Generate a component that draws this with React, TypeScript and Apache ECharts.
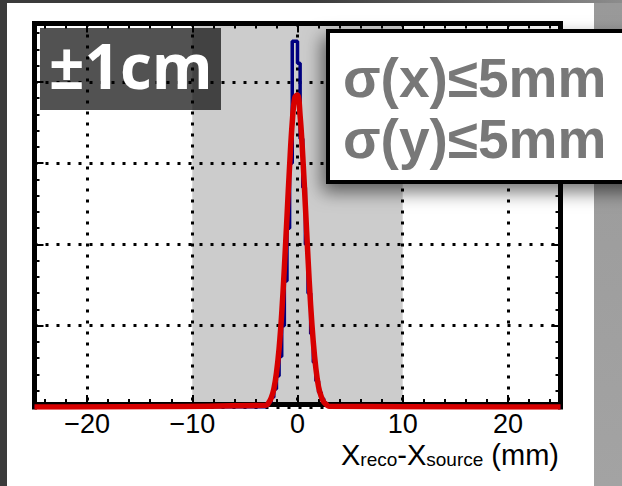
import React, { useEffect, useRef } from "react";
import * as echarts from "echarts";

// Histogram of X_reco - X_source (mm): left edges of 0.25 mm bins and their contents
const binLeftEdges = [
  -3, -2.75, -2.5, -2.25, -2, -1.75, -1.5, -1.25, -1, -0.75, -0.5, -0.25,
  0, 0.25, 0.5, 0.75, 1, 1.25, 1.5, 1.75, 2, 2.25, 2.5, 2.75,
];
const binCounts = [
  0.03, 0.06, 0.12, 0.22, 0.38, 0.62, 1.0, 1.55, 2.2, 3.0, 4.5, 4.5,
  4.23, 3.3, 2.7, 2.0, 1.4, 0.9, 0.55, 0.32, 0.18, 0.1, 0.05, 0.02,
];
const histEnd = 3;

// Gaussian fit curve sampled points
const fitX = [
  -25, -3, -2.75, -2.5, -2.25, -2, -1.75, -1.5, -1.25, -1, -0.75, -0.5, -0.25,
  0, 0.25, 0.5, 0.75, 1, 1.25, 1.5, 1.75, 2, 2.25, 2.5, 2.75, 3, 25,
];
const fitY = [
  0, 0.02, 0.05, 0.11, 0.22, 0.42, 0.72, 1.15, 1.71, 2.34, 2.97, 3.5, 3.81,
  3.84, 3.58, 3.09, 2.47, 1.83, 1.25, 0.8, 0.47, 0.25, 0.13, 0.06, 0.03, 0.01, 0,
];

const xRange = [-25, 25];
const yMax = 4.72;
const windowRange = [-10, 10];

const titleLabel = "\u00b11cm";
const sigmaLines = ["\u03c3(x)\u22645mm", "\u03c3(y)\u22645mm"];

export default function App() {
  const ref = useRef<HTMLDivElement>(null);

  useEffect(() => {
    if (!ref.current) return;
    const chart = echarts.init(ref.current, undefined, { renderer: "svg" });

    const histData: number[][] = [[xRange[0], 0]];
    binLeftEdges.forEach((x, i) => histData.push([x, binCounts[i]]));
    histData.push([histEnd, 0], [xRange[1], 0]);
    const fitData = fitX.map((x, i) => [x, fitY[i]]);

    const frameLine = { show: true, onZero: false, lineStyle: { color: "#000", width: 5, cap: "square" } };
    const tick = { show: true, inside: true, length: 9, lineStyle: { color: "#000", width: 2 } };
    const minor = { show: true, splitNumber: 5, length: 5, lineStyle: { color: "#000", width: 2 } };
    const dotted = { show: true, lineStyle: { color: "#000", width: 3, type: [3, 8] } };

    const fmt = (v: number) => (v < 0 ? "\u2212" + Math.abs(v) : String(v));

    chart.setOption({
      animation: false,
      backgroundColor: "#ffffff",
      grid: { left: 34.5, right: 61.5, top: 23.4, bottom: 79, containLabel: false },
      xAxis: [
        {
          type: "value",
          min: xRange[0],
          max: xRange[1],
          position: "bottom",
          offset: -3,
          z: 3,
          axisLine: frameLine,
          axisTick: tick,
          minorTick: minor,
          splitLine: dotted,
          axisLabel: {
            show: true,
            showMinLabel: false,
            showMaxLabel: false,
            formatter: fmt,
            fontFamily: "Liberation Sans",
            fontSize: 27,
            color: "#000",
            margin: 6,
          },
        },
        {
          type: "value",
          min: xRange[0],
          max: xRange[1],
          position: "top",
          z: 3,
          axisLine: frameLine,
          axisTick: tick,
          minorTick: minor,
          splitLine: { show: false },
          axisLabel: { show: false },
        },
      ],
      yAxis: [
        {
          type: "value",
          min: 0,
          max: yMax,
          interval: 1,
          position: "left",
          z: 3,
          axisLine: frameLine,
          axisTick: tick,
          minorTick: minor,
          splitLine: dotted,
          axisLabel: { show: false },
        },
        {
          type: "value",
          min: 0,
          max: yMax,
          interval: 1,
          position: "right",
          z: 3,
          axisLine: frameLine,
          axisTick: tick,
          minorTick: minor,
          splitLine: { show: false },
          axisLabel: { show: false },
        },
      ],
      series: [
        {
          type: "line",
          xAxisIndex: 0,
          yAxisIndex: 0,
          step: "end",
          symbol: "none",
          data: histData,
          lineStyle: { color: "#000080", width: 3.5 },
          z: 4,
          markArea: {
            silent: true,
            z: 1,
            itemStyle: { color: "#cccccc" },
            data: [[{ xAxis: windowRange[0] }, { xAxis: windowRange[1] }]],
          },
        },
        {
          type: "line",
          xAxisIndex: 0,
          yAxisIndex: 0,
          smooth: 0.4,
          symbol: "none",
          data: fitData,
          lineStyle: { color: "#d70000", width: 5.5 },
          z: 5,
        },
      ],
      graphic: [
        { type: "rect", shape: { x: 0, y: 0, width: 7, height: 486 }, style: { fill: "#3b3b3b" }, z: 1 },
        {
          type: "rect",
          shape: { x: 0, y: 0, width: 622, height: 3 },
          style: {
            fill: new echarts.graphic.LinearGradient(0, 0, 1, 0, [
              { offset: 0, color: "#3b3b3b" },
              { offset: 0.5, color: "#3b3b3b" },
              { offset: 1, color: "#8c8c8c" },
            ]),
          },
          z: 1,
        },
        {
          type: "rect",
          shape: { x: 594, y: 3, width: 28, height: 483 },
          style: {
            fill: new echarts.graphic.LinearGradient(0, 0, 0, 1, [
              { offset: 0, color: "#999999" },
              { offset: 1, color: "#a3a3a3" },
            ]),
          },
          z: 1,
        },
        {
          type: "rect",
          shape: { x: 40, y: 28, width: 181, height: 82 },
          style: { fill: "rgba(0,0,0,0.68)" },
          z: 100,
        },
        {
          type: "text",
          x: 49,
          y: 65,
          style: {
            text: titleLabel,
            fill: "#ffffff",
            fontFamily: "Open Sans",
            fontWeight: "bold",
            fontSize: 62,
            align: "left",
            verticalAlign: "middle",
          },
          z: 101,
        },
        {
          type: "rect",
          shape: { x: 328, y: 31, width: 320, height: 151 },
          style: {
            fill: "#ffffff",
            stroke: "#000000",
            lineWidth: 4,
            shadowBlur: 18,
            shadowOffsetX: -4,
            shadowOffsetY: 8,
            shadowColor: "rgba(0,0,0,0.55)",
          },
          z: 100,
        },
        {
          type: "text",
          x: 343,
          y: 47.5,
          style: {
            text: sigmaLines.join("\n"),
            fill: "#787878",
            fontFamily: "Liberation Sans",
            fontWeight: "bold",
            fontSize: 55,
            lineHeight: 61,
            align: "left",
            verticalAlign: "top",
          },
          z: 101,
        },
        {
          type: "text",
          x: 559,
          y: 469,
          style: {
            text: "X{s|reco}-X{s|source} (mm)",
            fill: "#000",
            fontFamily: "Liberation Sans",
            fontSize: 29,
            lineHeight: 29,
            align: "right",
            verticalAlign: "bottom",
            rich: {
              s: { fontFamily: "Liberation Sans", fontSize: 19, lineHeight: 14, verticalAlign: "bottom", fill: "#000" },
            },
          },
          z: 101,
        },
      ],
    });

    return () => chart.dispose();
  }, []);

  return (
    <div
      ref={ref}
      style={{ position: "fixed", left: 0, top: 0, width: 622, height: 486 }}
    />
  );
}
